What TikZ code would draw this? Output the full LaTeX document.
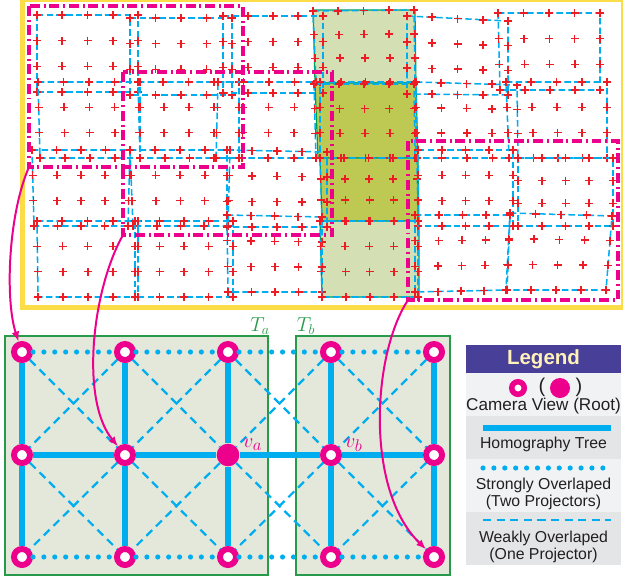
\documentclass[tikz,border=0pt]{standalone}
\usepackage{fontspec}
\newfontfamily\lgfont{Liberation Sans}
\usetikzlibrary{calc, arrows.meta}

\definecolor{viewcyan}{RGB}{0,174,239}
\definecolor{markred}{RGB}{237,28,36}
\definecolor{projmag}{RGB}{236,0,140}
\definecolor{frameyel}{RGB}{252,221,72}
\definecolor{lightolive}{RGB}{213,223,180}
\definecolor{darkolive}{RGB}{189,201,82}
\definecolor{quadgreen}{RGB}{0,160,80}
\definecolor{treefill}{RGB}{227,232,219}
\definecolor{treegreen}{RGB}{40,155,75}
\definecolor{lgpurple}{RGB}{72,63,152}
\definecolor{lgcream}{RGB}{255,242,185}
\definecolor{lglight}{RGB}{241,242,243}
\definecolor{lgdark}{RGB}{228,229,231}
\definecolor{lgtextcol}{RGB}{35,31,32}

% one projected camera view: dashed outline and its 5x4 feature points
\newcommand{\camview}[4]{%
  \draw[viewbox] #1 -- #2 -- #3 -- #4 -- cycle;
  \foreach \ii in {0,...,4}{
    \foreach \jj in {0,...,3}{
      \path ($#1!\ii/4!#2$) coordinate (vt) ($#4!\ii/4!#3$) coordinate (vb);
      \draw[plusmark] ($(vt)!\jj/3!(vb)$) +(-4,0) -- +(4,0) +(0,-4) -- +(0,4);
    }
  }%
}

\begin{document}
\begin{tikzpicture}[
  x=0.03cm, y=-0.03cm,
  viewbox/.style  = {draw=viewcyan, line width=1.3pt, dash pattern=on 5.5pt off 2.8pt},
  plusmark/.style = {draw=markred, line width=1.3pt},
  projbox/.style  = {draw=projmag, line width=2.6pt,
                     dash pattern=on 8.5pt off 3.2pt on 1.7pt off 3.2pt},
  quad/.style     = {draw=quadgreen, line width=1pt},
  treebox/.style  = {draw=treegreen, fill=treefill, line width=1.2pt},
  camnode/.style  = {circle, draw=projmag, fill=white, line width=5.1pt,
                     minimum size=0.48cm, inner sep=0pt},
  rootnode/.style = {circle, fill=projmag, minimum size=0.68cm, inner sep=0pt},
  tree/.style     = {draw=viewcyan, line width=4.3pt},
  strong/.style   = {draw=viewcyan, line width=4.4pt, line cap=round,
                     dash pattern=on 0pt off 9.3pt},
  weak/.style     = {draw=viewcyan, line width=1.9pt, dash pattern=on 7pt off 4.6pt},
  pathto/.style   = {draw=projmag, line width=1.7pt,
                     -{Latex[length=3mm, width=2.3mm]}},
  tlabel/.style   = {text=treegreen, font=\fontsize{18}{20}\selectfont, inner sep=0pt},
  vlabel/.style   = {text=projmag, font=\fontsize{19}{21}\selectfont, inner sep=0pt},
  lghead/.style   = {fill=lgpurple, text=lgcream, minimum width=4.65cm, minimum height=0.84cm,
                     inner sep=0pt, font=\lgfont\bfseries\fontsize{17.5}{20}\selectfont},
  lgrow/.style    = {minimum width=4.65cm, inner sep=0pt},
  lgtext/.style   = {text=lgtextcol, align=center, inner sep=0pt,
                     font=\lgfont\fontsize{13.5}{14.6}\selectfont},
]
\useasboundingbox (0,0) rectangle (623,581);

  % ── top panel: camera views projected on the display ─────────────────
  \fill[frameyel] (20,0) rectangle (623,310);
  \fill[white] (25,2) rectangle (621,305);

  \filldraw[quad, fill=lightolive] (313,10) -- (415,10) -- (416,83) -- (315,83) -- cycle;
  \filldraw[quad, fill=darkolive]  (315,83) -- (416,83) -- (418,158) -- (318,158) -- cycle;
  \filldraw[quad, fill=darkolive]  (320,158) -- (418,158) -- (419,221) -- (322,221) -- cycle;
  \filldraw[quad, fill=lightolive] (320,221) -- (419,221) -- (419,297) -- (322,297) -- cycle;

  \camview{(37,15)}{(138,15)}{(138,92)}{(37,92)}
  \camview{(130,18)}{(232,18)}{(232,95)}{(130,95)}
  \camview{(223,16)}{(323,16)}{(323,93)}{(223,93)}
  \camview{(313,11)}{(414,10)}{(415,82)}{(316,82)}
  \camview{(407,16)}{(508,21)}{(508,95)}{(407,94)}
  \camview{(498,13)}{(600,13)}{(600,90)}{(500,90)}

  \camview{(38,82)}{(140,82)}{(140,158)}{(40,158)}
  \camview{(138,82)}{(239,82)}{(239,158)}{(140,158)}
  \camview{(218,82)}{(320,82)}{(320,158)}{(216,158)}
  \camview{(314,84)}{(414,84)}{(415,158)}{(316,158)}
  \camview{(416,82)}{(517,85)}{(518,158)}{(416,158)}
  \camview{(506,82)}{(607,82)}{(607,158)}{(509,158)}

  \camview{(32,150)}{(130,150)}{(128,226)}{(34,226)}
  \camview{(130,150)}{(230,150)}{(228,226)}{(133,226)}
  \camview{(227,150)}{(327,152)}{(327,227)}{(227,227)}
  \camview{(320,158)}{(417,158)}{(418,221)}{(322,221)}
  \camview{(418,150)}{(513,150)}{(513,226)}{(418,226)}
  \camview{(518,158)}{(613,158)}{(613,226)}{(518,226)}

  \camview{(37,221)}{(138,221)}{(138,297)}{(38,297)}
  \camview{(135,221)}{(233,221)}{(233,297)}{(135,297)}
  \camview{(227,215)}{(322,217)}{(322,292)}{(228,292)}
  \camview{(320,221)}{(418,221)}{(418,297)}{(322,297)}
  \camview{(415,215)}{(510,215)}{(507,290)}{(415,292)}
  \camview{(510,213)}{(612,216)}{(606,290)}{(506,290)}

  % projector footprints
  \draw[projbox] (29,6) rectangle (243,167);
  \draw[projbox] (123,72) rectangle (332,235);
  \draw[projbox] (408,141) rectangle (618,300);
  \coordinate (pa) at (29,167);
  \coordinate (pb) at (123,235);
  \coordinate (pc) at (408,300);

  % ── bottom panel: homography trees ───────────────────────────────────
  \draw[treebox] (5,336) rectangle (268,575);
  \draw[treebox] (296,336) rectangle (450,575);
  \node[tlabel, anchor=base] (tla) at (260,331) {$T_a$};
  \node[tlabel, anchor=base] (tlb) at (306,331) {$T_b$};

  \foreach \cc/\x in {1/22, 2/125, 3/228, 4/331, 5/434}{
    \foreach \rr/\y in {1/352, 2/455, 3/557}{
      \ifnum\rr\cc=23
        \node[rootnode] (v\rr\cc) at (\x,\y) {};
      \else
        \node[camnode] (v\rr\cc) at (\x,\y) {};
      \fi
    }
  }

  % weak overlaps: crossing diagonals in every cell
  \foreach \cc [evaluate=\cc as \nn using int(\cc+1)] in {1,...,4}{
    \foreach \rr [evaluate=\rr as \mm using int(\rr+1)] in {1,2}{
      \draw[weak] (v\rr\cc) -- (v\mm\nn);
      \draw[weak] (v\rr\nn) -- (v\mm\cc);
    }
  }
  % strong overlaps along top and bottom rows
  \foreach \cc [evaluate=\cc as \nn using int(\cc+1)] in {1,...,4}{
    \draw[strong] (v1\cc) -- (v1\nn);
    \draw[strong] (v3\cc) -- (v3\nn);
  }
  % homography tree edges
  \foreach \cc in {1,...,5}{
    \draw[tree] (v1\cc) -- (v2\cc) -- (v3\cc);
  }
  \draw[tree] (v21) -- (v22) -- (v23) -- (v24) -- (v25);

  \node[vlabel, anchor=base west] (vla) at (243,447) {$v_a$};
  \node[vlabel, anchor=base west] (vlb) at (345,447) {$v_b$};

  % projector footprints mapped onto the tree nodes
  \draw[pathto] (pa) .. controls (8,215) and (5,300) .. (v11);
  \draw[pathto] (pb) .. controls (92,290) and (80,400) .. (v22);
  \draw[pathto] (pc) .. controls (372,355) and (365,490) .. (v35);

  % ── legend ───────────────────────────────────────────────────────────
  \node[lghead] (lg0) at (543.5,359) {Legend};
  \node[lgrow, fill=lglight, minimum height=1.29cm] (lg1) at (543.5,394.5) {};
  \node[lgrow, fill=lgdark,  minimum height=1.29cm] (lg2) at (543.5,437.5) {};
  \node[lgrow, fill=lglight, minimum height=1.59cm] (lg3) at (543.5,485.5) {};
  \node[lgrow, fill=lgdark,  minimum height=1.59cm] (lg4) at (543.5,538.5) {};

  \node[camnode, line width=4.7pt, minimum size=0.375cm] (lgring) at (518,388) {};
  \node[lgtext, font=\lgfont\fontsize{17}{19}\selectfont] (lgpl) at (542,387) {(};
  \node[rootnode, minimum size=0.6cm] (lgroot) at (560,388) {};
  \node[lgtext, font=\lgfont\fontsize{17}{19}\selectfont] (lgpr) at (579,387) {)};
  \node[lgtext, font=\lgfont\fontsize{14.6}{16}\selectfont] (lgt1) at (543.5,406) {Camera View (Root)};

  \coordinate (lgs2a) at (483,428);
  \coordinate (lgs2b) at (611,428);
  \draw[tree] (lgs2a) -- (lgs2b);
  \node[lgtext] (lgt2) at (543.5,444) {Homography Tree};

  \coordinate (lgs3a) at (483,468);
  \coordinate (lgs3b) at (605,468);
  \draw[strong] (lgs3a) -- (lgs3b);
  \node[lgtext] (lgt3) at (543.5,493.5) {Strongly Overlaped\\(Two Projectors)};

  \coordinate (lgs4a) at (483,520);
  \coordinate (lgs4b) at (611,520);
  \draw[weak] (lgs4a) -- (lgs4b);
  \node[lgtext] (lgt4) at (543.5,546.5) {Weakly Overlaped\\(One Projector)};

\end{tikzpicture}
\end{document}
